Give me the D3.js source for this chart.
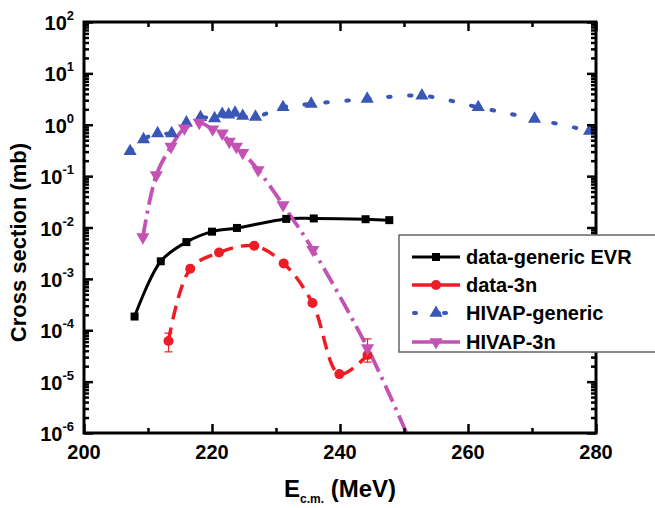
<!DOCTYPE html>
<html><head><meta charset="utf-8">
<script src="https://cdn.jsdelivr.net/npm/d3@7"></script>
<style>
body{margin:0;background:#fff;}
text{font-family:"Liberation Sans",Arial,sans-serif;font-weight:bold;fill:#000;}
</style></head>
<body><svg id="c" width="655" height="508"></svg>
<script>
// ---- data ----
const evrE  = [207.9, 212.0, 216.0, 220.0, 223.9, 231.6, 235.9, 244.0, 247.7];
const evrXS = [1.85e-4, 2.2e-3, 5.2e-3, 8.3e-3, 9.8e-3, 1.47e-2, 1.5e-2, 1.45e-2, 1.39e-2];

const d3nE  = [213.2, 216.6, 221.1, 226.6, 231.2, 235.7, 239.9, 244.3];
const d3nXS = [6.2e-5, 1.57e-3, 3.25e-3, 4.4e-3, 2.0e-3, 3.4e-4, 1.4e-5, 3.3e-5];
const errE  = [213.2, 244.3];
const errLo = [3.8e-5, 2.4e-5];
const errHi = [8.8e-5, 6.8e-5];

const genE  = [207.2, 209.3, 211.5, 213.7, 216.0, 218.2, 220.4, 221.6, 222.6, 223.6, 224.8, 226.8, 231.1, 235.5, 244.25, 252.8, 261.6, 270.4, 279.0];
const genXS = [0.305, 0.52, 0.68, 0.68, 1.1, 1.4, 1.33, 1.62, 1.57, 1.7, 1.48, 1.42, 2.19, 2.54, 3.18, 3.68, 2.19, 1.30, 0.76];

const h3nE  = [209.2, 211.3, 213.6, 215.7, 218.0, 220.1, 221.6, 222.7, 223.8, 224.8, 227.2, 231.1, 235.75, 244.3];
const h3nXS = [6.5e-3, 0.105, 0.375, 0.855, 1.1, 0.82, 0.68, 0.47, 0.375, 0.286, 0.132, 0.0275, 3.7e-3, 4.5e-5];
const h3nTailE  = [250.4];
const h3nTailXS = [1e-6];

const xTicks = [200, 220, 240, 260, 280];
const xMinor = [210, 230, 250, 270];
const yExps  = [-6, -5, -4, -3, -2, -1, 0, 1, 2];
const legendLabels = ["data-generic EVR", "data-3n", "HIVAP-generic", "HIVAP-3n"];

// ---- colours ----
const cBlack = "#000000", cRed = "#ee1c25", cBlue = "#3a56b6", cMag = "#c452b4";

const svg = d3.select("#c");
const L = 84, R = 596, T = 22, B = 433;
const x = d3.scaleLinear().domain([200, 280]).range([L, R]);
const y = d3.scaleLog().domain([1e-6, 1e2]).range([B, T]);

svg.append("defs").append("clipPath").attr("id", "clip")
  .append("rect").attr("x", L).attr("y", T).attr("width", R - L).attr("height", B - T);

const zip = (a, b) => a.map((v, i) => [v, b[i]]);
const line = d3.line().x(d => x(d[0])).y(d => y(d[1])).curve(d3.curveCatmullRom.alpha(0.5));

const plot = svg.append("g").attr("clip-path", "url(#clip)");

// black
plot.append("path").datum(zip(evrE, evrXS)).attr("d", line)
  .attr("fill", "none").attr("stroke", cBlack).attr("stroke-width", 3);
// red
plot.append("path").datum(zip(d3nE, d3nXS)).attr("d", line)
  .attr("fill", "none").attr("stroke", cRed).attr("stroke-width", 3.5)
  .attr("stroke-dasharray", "14,8");
// blue
plot.append("path").datum(zip(genE, genXS)).attr("d", line)
  .attr("fill", "none").attr("stroke", cBlue).attr("stroke-width", 4)
  .attr("stroke-linecap", "round").attr("stroke-dasharray", "2.5,18.5");
// magenta
plot.append("path").datum(zip(h3nE.concat(h3nTailE), h3nXS.concat(h3nTailXS))).attr("d", line)
  .attr("fill", "none").attr("stroke", cMag).attr("stroke-width", 3.8)
  .attr("stroke-dasharray", "18,6,3,6");

// error bars
errE.forEach((e, i) => {
  const g = svg.append("g").attr("stroke", cRed).attr("stroke-width", 1.2);
  g.append("line").attr("x1", x(e)).attr("x2", x(e)).attr("y1", y(errLo[i])).attr("y2", y(errHi[i]));
  g.append("line").attr("x1", x(e) - 4).attr("x2", x(e) + 4).attr("y1", y(errLo[i])).attr("y2", y(errLo[i]));
  g.append("line").attr("x1", x(e) - 4).attr("x2", x(e) + 4).attr("y1", y(errHi[i])).attr("y2", y(errHi[i]));
});

// markers
const sq = d3.symbol().type(d3.symbolSquare).size(64);
const tri = d3.symbol().type(d3.symbolTriangle).size(75);
svg.append("g").selectAll("path").data(zip(evrE, evrXS)).join("path")
  .attr("d", sq).attr("transform", d => `translate(${x(d[0])},${y(d[1])})`).attr("fill", cBlack);
svg.append("g").selectAll("circle").data(zip(d3nE, d3nXS)).join("circle")
  .attr("cx", d => x(d[0])).attr("cy", d => y(d[1])).attr("r", 5).attr("fill", cRed);
svg.append("g").selectAll("path").data(zip(genE, genXS)).join("path")
  .attr("d", tri).attr("transform", d => `translate(${x(d[0])},${y(d[1])})`).attr("fill", cBlue);
svg.append("g").selectAll("path").data(zip(h3nE, h3nXS)).join("path")
  .attr("d", tri).attr("transform", d => `translate(${x(d[0])},${y(d[1])}) rotate(180)`).attr("fill", cMag);

// ---- axes ----
const yMajor = yExps.map(e => Math.pow(10, e));
const yMinor = [];
yExps.slice(0, -1).forEach(e => { for (let k = 2; k <= 9; k++) yMinor.push(k * Math.pow(10, e)); });

function styleAxis(g) {
  g.select(".domain").remove();
  g.selectAll(".tick line").attr("stroke", "#000").attr("stroke-width", 2.5);
  g.selectAll(".tick text").remove();
}
svg.append("g").attr("transform", `translate(0,${B})`).call(d3.axisBottom(x).tickValues(xTicks).tickSize(-9)).call(styleAxis);
svg.append("g").attr("transform", `translate(0,${B})`).call(d3.axisBottom(x).tickValues(xMinor).tickSize(-5)).call(styleAxis);
svg.append("g").attr("transform", `translate(0,${T})`).call(d3.axisTop(x).tickValues(xTicks).tickSize(-9)).call(styleAxis);
svg.append("g").attr("transform", `translate(0,${T})`).call(d3.axisTop(x).tickValues(xMinor).tickSize(-5)).call(styleAxis);
svg.append("g").attr("transform", `translate(${L},0)`).call(d3.axisLeft(y).tickValues(yMajor).tickSize(-9)).call(styleAxis);
svg.append("g").attr("transform", `translate(${L},0)`).call(d3.axisLeft(y).tickValues(yMinor).tickSize(-5)).call(styleAxis);
svg.append("g").attr("transform", `translate(${R},0)`).call(d3.axisRight(y).tickValues(yMajor).tickSize(-9)).call(styleAxis);
svg.append("g").attr("transform", `translate(${R},0)`).call(d3.axisRight(y).tickValues(yMinor).tickSize(-5)).call(styleAxis);

svg.append("rect").attr("x", L).attr("y", T).attr("width", R - L).attr("height", B - T)
  .attr("fill", "none").attr("stroke", "#000").attr("stroke-width", 3);

// tick labels
svg.append("g").selectAll("text").data(xTicks).join("text")
  .attr("x", d => x(d)).attr("y", B + 26).attr("text-anchor", "middle")
  .attr("font-size", 20).text(d => d);
const yl = svg.append("g").selectAll("text").data(yExps).join("text")
  .attr("x", L - 10).attr("y", d => y(Math.pow(10, d)) + 8).attr("text-anchor", "end").attr("font-size", 20);
yl.append("tspan").text("10");
yl.append("tspan").attr("dy", -10).attr("font-size", 13).text(d => d);

// axis titles
svg.append("text").attr("transform", `translate(26,${(T + B) / 2 + 15}) rotate(-90)`)
  .attr("text-anchor", "middle").attr("font-size", 22).text("Cross section (mb)");
const xt = svg.append("text").attr("x", (L + R) / 2).attr("y", 497).attr("text-anchor", "middle").attr("font-size", 24);
xt.append("tspan").text("E");
xt.append("tspan").attr("dy", 6).attr("font-size", 12).text("c.m.");
xt.append("tspan").attr("dy", -6).text(" (MeV)");

// ---- legend ----
const lg = svg.append("g");
lg.append("rect").attr("x", 399).attr("y", 235).attr("width", 270).attr("height", 117)
  .attr("fill", "#fff").attr("stroke", "#666").attr("stroke-width", 1.5);
const rowY = [257, 285, 313, 342];
const lx1 = 412, lx2 = 460, lm = 436;
// row 0
lg.append("line").attr("x1", lx1).attr("x2", lx2).attr("y1", rowY[0]).attr("y2", rowY[0]).attr("stroke", cBlack).attr("stroke-width", 3);
lg.append("path").attr("d", sq).attr("transform", `translate(${lm},${rowY[0]})`).attr("fill", cBlack);
// row 1
lg.append("line").attr("x1", lx1).attr("x2", lx2).attr("y1", rowY[1]).attr("y2", rowY[1]).attr("stroke", cRed).attr("stroke-width", 3.5);
lg.append("circle").attr("cx", lm).attr("cy", rowY[1]).attr("r", 5).attr("fill", cRed);
// row 2
lg.append("line").attr("x1", lx1 + 2).attr("x2", lx2).attr("y1", rowY[2]).attr("y2", rowY[2]).attr("stroke", cBlue).attr("stroke-width", 4)
  .attr("stroke-linecap", "round").attr("stroke-dasharray", "2,21");
lg.append("line").attr("x1", lm + 8).attr("x2", lm + 10).attr("y1", rowY[2]).attr("y2", rowY[2]).attr("stroke", cBlue).attr("stroke-width", 4).attr("stroke-linecap", "round");
lg.append("path").attr("d", tri).attr("transform", `translate(${lm},${rowY[2]})`).attr("fill", cBlue);
// row 3
lg.append("line").attr("x1", lx1).attr("x2", lx2).attr("y1", rowY[3]).attr("y2", rowY[3]).attr("stroke", cMag).attr("stroke-width", 3.5);
lg.append("path").attr("d", tri).attr("transform", `translate(${lm},${rowY[3]}) rotate(180)`).attr("fill", cMag);
lg.selectAll("text.lab").data(legendLabels).join("text").attr("class", "lab")
  .attr("x", 466).attr("y", (d, i) => rowY[i] + 7).attr("font-size", 20).text(d => d);
</script></body></html>
